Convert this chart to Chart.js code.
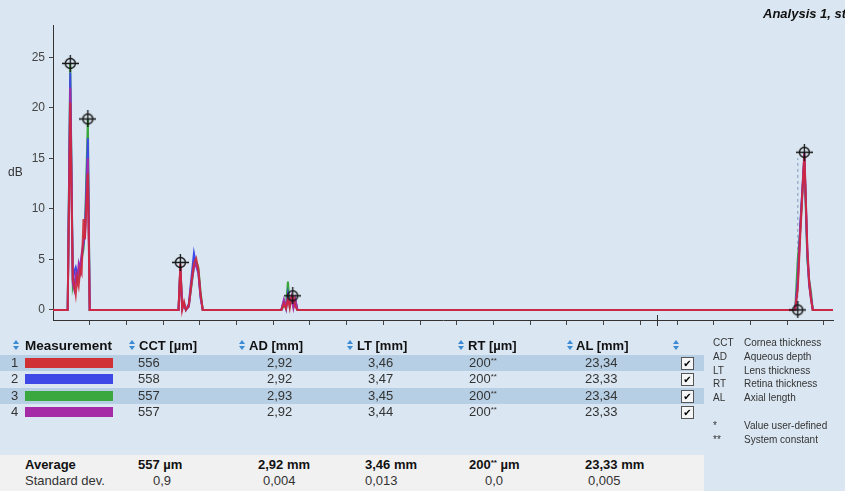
<!DOCTYPE html>
<html>
<head>
<meta charset="utf-8">
<script src="https://cdn.jsdelivr.net/npm/chart.js@4/dist/chart.umd.min.js"></script>
<style>
  html, body { margin: 0; padding: 0; }
  body { width: 845px; height: 491px; overflow: hidden; background: #dae6f1; position: relative;
         font-family: "Liberation Sans", Arial, sans-serif; color: #333; }
  #plot { position: absolute; left: 0; top: 0; width: 845px; height: 335px; }
  .t { position: absolute; white-space: nowrap; line-height: 16px; font-size: 13px; }
  .b { font-weight: bold; color: #111; }
  .band { position: absolute; left: 0; width: 704px; height: 16px; background: #b7cfe4; }
  .sort { position: absolute; width: 7px; height: 10px; }
  .sort:before, .sort:after { content: ""; position: absolute; left: 0; border-left: 3.5px solid transparent; border-right: 3.5px solid transparent; }
  .sort:before { top: 0; border-bottom: 4px solid #3b8ad6; }
  .sort:after { bottom: 0; border-top: 4px solid #3b8ad6; }
  .swatch { position: absolute; left: 25px; width: 88px; height: 10px; }
  .check { position: absolute; left: 681px; width: 11px; height: 11px; border: 1px solid #555; background: #f4f6f8;
           font-size: 10px; line-height: 11px; text-align: center; color: #000; font-family: "DejaVu Sans", sans-serif; font-weight: bold; }
  sup { font-size: 8px; vertical-align: 4px; line-height: 0; }
  .leg { position: absolute; font-size: 10px; line-height: 12px; color: #333; white-space: nowrap; }
</style>
</head>
<body>
<div id="plot"><canvas id="scanChart"></canvas></div>
<div class="t" style="left:763px;top:6px;font-size:13px;font-weight:bold;font-style:italic;color:#111;">Analysis 1, standard</div>
<div class="t" style="left:8px;top:164px;font-size:12px;color:#333;">dB</div>
<div id="table"></div>

<script>
// A-scan sample positions (x in tick units) and echo amplitudes (dB) per measurement
const sampleX = [
  0, 0.40, 0.47, 0.54, 0.58, 0.62, 0.66, 0.70, 0.74, 0.78, 0.83, 0.87, 0.95, 1.00,
  3.42, 3.47, 3.52, 3.57, 3.62, 3.70, 3.78, 3.84, 3.90, 3.96, 4.02, 4.08,
  6.22, 6.29, 6.35, 6.40, 6.45, 6.50, 6.55, 6.60, 6.66,
  20.22, 20.29, 20.36, 20.47, 20.55, 20.60, 20.65, 20.70, 21.25
];
const redValues = [
  0, 0, 20.5, 3.0, 2.5, 1.5, 3.2, 2.4, 4.0, 3.6, 9.0, 7.0, 13.5, 0,
  0, 4.6, 0, 0.8, 0, 0.5, 3.0, 4.6, 5.1, 4.0, 1.5, 0,
  0, 0.6, 0.1, 1.2, 0.2, 1.4, 1.3, 0.3, 0,
  0, 2.0, 7.5, 15.4, 6.0, 2.7, 1.0, 0, 0
];
const blueValues = [
  0, 0, 23.5, 2.8, 3.8, 4.2, 3.5, 4.0, 4.6, 5.2, 6.5, 7.5, 17.0, 0,
  0, 4.0, 0.3, 0.5, 0, 0.6, 3.5, 5.6, 4.4, 3.6, 1.2, 0,
  0, 0.9, 0.1, 1.6, 0.5, 1.2, 0.4, 0.9, 0,
  0, 3.0, 8.5, 15.2, 5.5, 2.4, 1.2, 0, 0
];
const greenValues = [
  0, 0, 24.4, 2.3, 3.0, 2.8, 3.5, 3.0, 4.2, 5.0, 6.0, 8.0, 18.9, 0,
  0, 4.2, 0.2, 0.6, 0, 0.4, 2.6, 4.3, 4.8, 4.2, 1.8, 0,
  0, 0.4, 0.5, 2.8, 0.4, 1.1, 0.3, 1.0, 0,
  0, 5.0, 8.0, 15.0, 5.0, 3.0, 1.8, 0, 0
];
const purpleValues = [
  0, 0, 22.0, 2.6, 2.0, 3.4, 2.8, 4.5, 3.8, 5.5, 6.8, 7.2, 15.0, 0,
  0, 4.4, 0.1, 0.7, 0, 0.3, 2.8, 4.2, 4.5, 3.8, 1.4, 0,
  0, 1.0, 0.3, 1.0, 0.6, 1.3, 0.2, 1.1, 0,
  0, 2.5, 8.2, 15.6, 6.2, 2.9, 1.3, 0, 0
];

// gate markers (cornea, cornea back, lens front, lens back, retina, retina start)
const markerX = [0.47, 0.95, 3.47, 6.53, 20.47, 20.29];
const markerY = [24.4, 18.9, 4.7, 1.4, 15.6, 0];
const retinaGateX = [20.29, 20.29];
const retinaGateY = [0, 15.0];
const specialTickX = 16.45;

const yTicks = [0, 5, 10, 15, 20, 25];
const xTicks = [1, 2, 3, 4, 5, 6, 7, 8, 9, 10, 11, 12, 13, 14, 15, 16, 17, 18, 19, 20, 21];

// table data
const measurementIds = ['1', '2', '3', '4'];
const cctValues = ['556', '558', '557', '557'];
const adValues = ['2,92', '2,92', '2,93', '2,92'];
const ltValues = ['3,46', '3,47', '3,45', '3,44'];
const rtValues = ['200**', '200**', '200**', '200**'];
const alValues = ['23,34', '23,33', '23,34', '23,33'];
const columnHeaders = ['CCT [µm]', 'AD [mm]', 'LT [mm]', 'RT [µm]', 'AL [mm]'];
const averageValues = ['557 µm', '2,92 mm', '3,46 mm', '200** µm', '23,33 mm'];
const stdDevValues = ['0,9', '0,004', '0,013', '0,0', '0,005'];
const legendAbbr = ['CCT', 'AD', 'LT', 'RT', 'AL'];
const legendText = ['Cornea thickness', 'Aqueous depth', 'Lens thickness', 'Retina thickness', 'Axial length'];
const noteMarks = ['*', '**'];
const noteText = ['Value user-defined', 'System constant'];

const seriesColors = ['#cf3134', '#3f49e6', '#3aa83e', '#a52ca6'];

// crosshair marker image
function makeCrosshair() {
    const c = document.createElement('canvas');
    c.width = 17; c.height = 17;
    const g = c.getContext('2d');
    g.strokeStyle = '#111';
    g.lineWidth = 1.3;
    g.beginPath(); g.arc(8.5, 8.5, 5, 0, Math.PI * 2); g.stroke();
    g.beginPath();
    g.moveTo(0, 8.5); g.lineTo(17, 8.5);
    g.moveTo(8.5, 0); g.lineTo(8.5, 17);
    g.stroke();
    return c;
}

const toPoints = (xs, ys) => xs.map((x, i) => ({ x: x, y: ys[i] }));

const lineStyle = (label, values, color) => ({
    label: label,
    data: toPoints(sampleX, values),
    borderColor: color,
    borderWidth: 2,
    pointRadius: 0,
    tension: 0,
    fill: false
});

const specialTickPlugin = {
    id: 'specialTick',
    afterDraw(chart) {
        const x = chart.scales.x.getPixelForValue(specialTickX);
        const y = chart.chartArea.bottom;
        const ctx = chart.ctx;
        ctx.save();
        ctx.strokeStyle = '#333';
        ctx.lineWidth = 1;
        ctx.beginPath();
        ctx.moveTo(Math.round(x) + 0.5, y - 5);
        ctx.lineTo(Math.round(x) + 0.5, y + 6);
        ctx.stroke();
        ctx.restore();
    }
};

new Chart(document.getElementById('scanChart'), {
    type: 'line',
    data: {
        datasets: [
            {
                label: 'Gates',
                data: toPoints(markerX, markerY),
                showLine: false,
                pointStyle: makeCrosshair(),
                pointRadius: 8
            },
            lineStyle('1', redValues, 'rgba(207,40,60,0.9)'),
            lineStyle('4', purpleValues, seriesColors[3]),
            lineStyle('2', blueValues, seriesColors[1]),
            lineStyle('3', greenValues, seriesColors[2]),
            {
                label: 'Retina gate',
                data: toPoints(retinaGateX, retinaGateY),
                borderColor: '#8ea6c6',
                borderWidth: 1.2,
                borderDash: [3, 3],
                pointRadius: 0
            }
        ]
    },
    options: {
        responsive: true,
        maintainAspectRatio: false,
        animation: false,
        layout: { padding: { top: 25, right: 12, left: 0, bottom: 0 } },
        plugins: {
            legend: { display: false },
            tooltip: { enabled: false }
        },
        scales: {
            x: {
                type: 'linear',
                min: 0,
                max: 21.25,
                afterBuildTicks: (s) => { s.ticks = xTicks.map(v => ({ value: v })); },
                afterFit: (s) => { s.height = 15; },
                ticks: { display: false },
                grid: { drawOnChartArea: false, tickLength: 5, color: '#444' },
                border: { color: '#333', width: 1 }
            },
            y: {
                min: -1,
                max: 28.2,
                afterBuildTicks: (s) => { s.ticks = yTicks.map(v => ({ value: v })); },
                afterFit: (s) => { s.width = 53; },
                ticks: {
                    color: '#444',
                    padding: 4,
                    font: { family: "'Liberation Sans', Arial, sans-serif", size: 12 }
                },
                grid: { drawOnChartArea: false, tickLength: 4, color: '#444' },
                border: { color: '#333', width: 1 }
            }
        }
    },
    plugins: [specialTickPlugin]
});

// build the measurement table
const table = document.getElementById('table');
function add(html, cls, left, yCenter, extra) {
    const d = document.createElement('div');
    d.className = cls;
    d.innerHTML = html;
    d.style.left = left + 'px';
    d.style.top = (yCenter - 8) + 'px';
    if (extra) d.style.cssText += extra;
    table.appendChild(d);
    return d;
}
const withStars = (s) => s.replace('**', '<sup>**</sup>');

const rowY = [363, 379, 396, 412];
const headerY = 346;
const headerLeft = [139, 249, 357, 468, 576];
const iconLeft = [129, 239, 347, 458, 567];
const rowLeft = [138, 267, 368, 469, 585];
const avgLeft = [138, 258, 365, 469, 585];
const stdLeft = [153, 263, 365, 485, 588];

// highlighted bands for rows 1 and 3
[0, 2].forEach(i => {
    const band = document.createElement('div');
    band.className = 'band';
    band.style.top = (rowY[i] - 8) + 'px';
    table.appendChild(band);
});
const avgBg = document.createElement('div');
avgBg.style.cssText = 'position:absolute;left:0;top:455px;width:704px;height:36px;background:#f1f1f1;';
table.appendChild(avgBg);

// header
const icon = (x, y) => {
    const s = document.createElement('div');
    s.className = 'sort';
    s.style.left = x + 'px';
    s.style.top = (y - 6) + 'px';
    table.appendChild(s);
};
icon(13, headerY);
add('Measurement', 't b', 25, headerY, 'font-size:13.5px;');
columnHeaders.forEach((h, i) => {
    icon(iconLeft[i], headerY);
    add(h, 't b', headerLeft[i], headerY);
});
icon(673, headerY);

// rows
const cols = [cctValues, adValues, ltValues, rtValues, alValues];
measurementIds.forEach((id, r) => {
    add(id, 't', 11, rowY[r]);
    const sw = document.createElement('div');
    sw.className = 'swatch';
    sw.style.top = (rowY[r] - 5) + 'px';
    sw.style.background = seriesColors[r];
    table.appendChild(sw);
    cols.forEach((col, c) => add(withStars(col[r]), 't', rowLeft[c], rowY[r]));
    const cb = document.createElement('div');
    cb.className = 'check';
    cb.textContent = '\u2714';
    cb.style.top = (rowY[r] - 6) + 'px';
    table.appendChild(cb);
});

// summary rows
add('Average', 't b', 25, 465);
averageValues.forEach((v, i) => add(withStars(v), 't b', avgLeft[i], 465));
add('Standard dev.', 't', 25, 481);
stdDevValues.forEach((v, i) => add(v, 't', stdLeft[i], 481));

// abbreviation legend
legendAbbr.forEach((a, i) => {
    const y = 343 + i * 13.8;
    add(a, 'leg', 713, y, 'top:' + (y - 6) + 'px;');
    add(legendText[i], 'leg', 744, y, 'top:' + (y - 6) + 'px;');
});
noteMarks.forEach((m, i) => {
    const y = 426 + i * 14;
    add(m, 'leg', 713, y, 'top:' + (y - 6) + 'px;');
    add(noteText[i], 'leg', 744, y, 'top:' + (y - 6) + 'px;');
});
</script>
</body>
</html>
